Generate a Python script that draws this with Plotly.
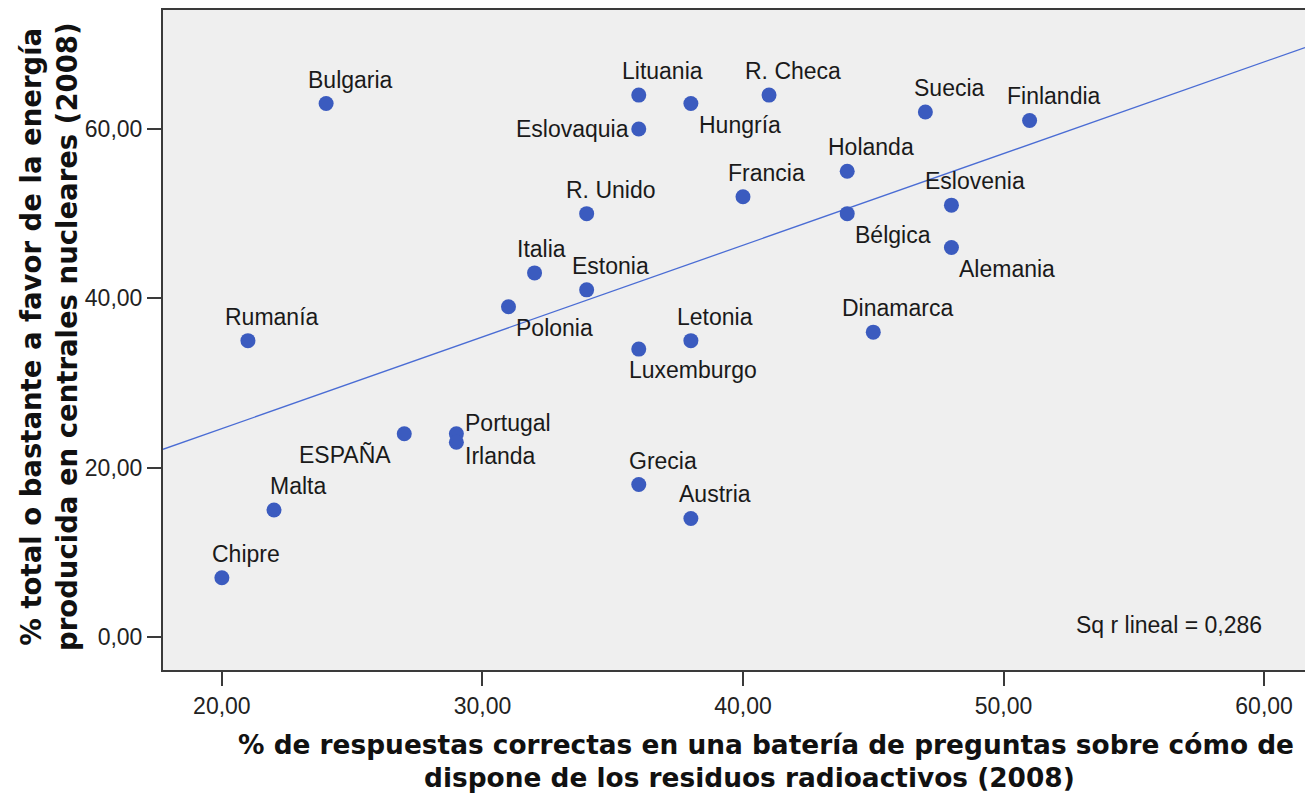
import numpy as np
import plotly.graph_objects as go

# datos (2008)
paises = ["Bulgaria", "Lituania", "Hungría", "R. Checa", "Eslovaquia", "Suecia",
          "Finlandia", "Holanda", "Francia", "R. Unido", "Bélgica", "Eslovenia",
          "Alemania", "Italia", "Estonia", "Polonia", "Rumanía", "Letonia",
          "Luxemburgo", "Dinamarca", "Portugal", "Irlanda", "ESPAÑA", "Grecia",
          "Austria", "Malta", "Chipre"]
respuestas_correctas = [24, 36, 38, 41, 36, 47, 51, 44, 40, 34, 44, 48, 48, 32, 34,
                        31, 21, 38, 36, 45, 29, 29, 27, 36, 38, 22, 20]
a_favor_nuclear = [63, 64, 63, 64, 60, 62, 61, 55, 52, 50, 50, 51, 46, 43, 41, 39,
                   35, 35, 34, 36, 24, 23, 24, 18, 14, 15, 7]

x_ticks = [20, 30, 40, 50, 60]
y_ticks = [0, 20, 40, 60]
r2_texto = "Sq r lineal = 0,286"

titulo_x = ["% de respuestas correctas en una batería de preguntas sobre cómo de",
            "dispone de los residuos radioactivos (2008)"]
titulo_y = ["% total o bastante a favor de la energía",
            "producida en centrales nucleares (2008)"]

# donde va cada etiqueta respecto al punto: (xanchor, xshift, yshift) en px
ARRIBA = ("center", 24, 24)
ABAJO = ("left", 6, -21)
pos_etiqueta = {
    "Hungría": ABAJO, "Bélgica": ABAJO, "Alemania": ABAJO, "Polonia": ABAJO,
    "Luxemburgo": ("left", -12, -21),
    "Italia": ("center", 7, 24),
    "Eslovaquia": ("right", -8, 0),
    "Portugal": ("left", 7, 11),
    "Irlanda": ("left", 7, -14),
    "ESPAÑA": ("right", -11, -21),
}

X_RANGO = [17.74, 61.57]
Y_RANGO = [-3.9, 74.05]
AZUL = "#3b5bbf"
EJE = "#3a3a3a"
FUENTE = "Liberation Sans, Arial, sans-serif"
FUENTE_TIT = "DejaVu Sans, Verdana, sans-serif"

fig = go.Figure()

# recta de regresion lineal
coef = np.polyfit(respuestas_correctas, a_favor_nuclear, 1)
xs = np.array(X_RANGO)
fig.add_trace(go.Scatter(x=xs, y=np.polyval(coef, xs), mode="lines",
                         line=dict(color="#4a6cd4", width=1.3), hoverinfo="skip"))

fig.add_trace(go.Scatter(x=respuestas_correctas, y=a_favor_nuclear, mode="markers",
                         marker=dict(size=15, color=AZUL), text=paises))

for p, xv, yv in zip(paises, respuestas_correctas, a_favor_nuclear):
    anc, dx, dy = pos_etiqueta.get(p, ARRIBA)
    fig.add_annotation(x=xv, y=yv, text=p, showarrow=False, xanchor=anc,
                       yanchor="middle", xshift=dx, yshift=dy,
                       font=dict(family=FUENTE, size=23, color="#1a1a1a"))

fig.add_annotation(x=60, y=1.4, text=r2_texto, showarrow=False, xanchor="right",
                   yanchor="middle", font=dict(family=FUENTE, size=23, color="#1a1a1a"))

# titulos de los ejes (las dos lineas del eje x no van centradas igual)
tit_x_font = dict(family=FUENTE_TIT, size=26.4, color="#111")
fig.add_annotation(xref="paper", yref="paper", x=0, y=0, xshift=603, yshift=-74,
                   text="<b>" + titulo_x[0] + "</b>", showarrow=False, borderpad=0,
                   xanchor="center", yanchor="middle", font=tit_x_font)
fig.add_annotation(xref="paper", yref="paper", x=0, y=0, xshift=586, yshift=-107,
                   text="<b>" + titulo_x[1] + "</b>", showarrow=False, borderpad=0,
                   xanchor="center", yanchor="middle", font=tit_x_font)
fig.add_annotation(xref="paper", yref="paper", x=0, y=0.5, xshift=-114, yshift=3,
                   text="<b>" + titulo_y[0] + "</b><br><b>" + titulo_y[1] + "</b>",
                   showarrow=False, textangle=-90, xanchor="center", yanchor="middle",
                   font=dict(family=FUENTE_TIT, size=27.5, color="#111"))

fig.update_xaxes(range=X_RANGO, tickvals=x_ticks, tickformat=".2f",
                 showgrid=False, zeroline=False, showline=True, linecolor=EJE,
                 linewidth=2, mirror=True, ticks="outside", ticklen=14, tickwidth=2,
                 tickcolor=EJE, tickfont=dict(family=FUENTE, size=23, color="#222"))
fig.update_yaxes(range=Y_RANGO, tickvals=y_ticks, tickformat=".2f",
                 showgrid=False, zeroline=False, showline=True, linecolor=EJE,
                 linewidth=2, ticks="outside", ticklen=14, tickwidth=2,
                 tickcolor=EJE, tickfont=dict(family=FUENTE, size=23, color="#222"))

fig.update_layout(width=1305, height=793, separators=",.",
                  margin=dict(l=163, r=0, t=10, b=123),
                  plot_bgcolor="#efefef", paper_bgcolor="white",
                  showlegend=False, hovermode=False)

# quitar el margen del body para que la figura ocupe toda la ventana
fig.write_html("out.html", config={"displayModeBar": False},
               post_script="document.body.style.margin='0';"
               "document.body.style.overflow='hidden';")
